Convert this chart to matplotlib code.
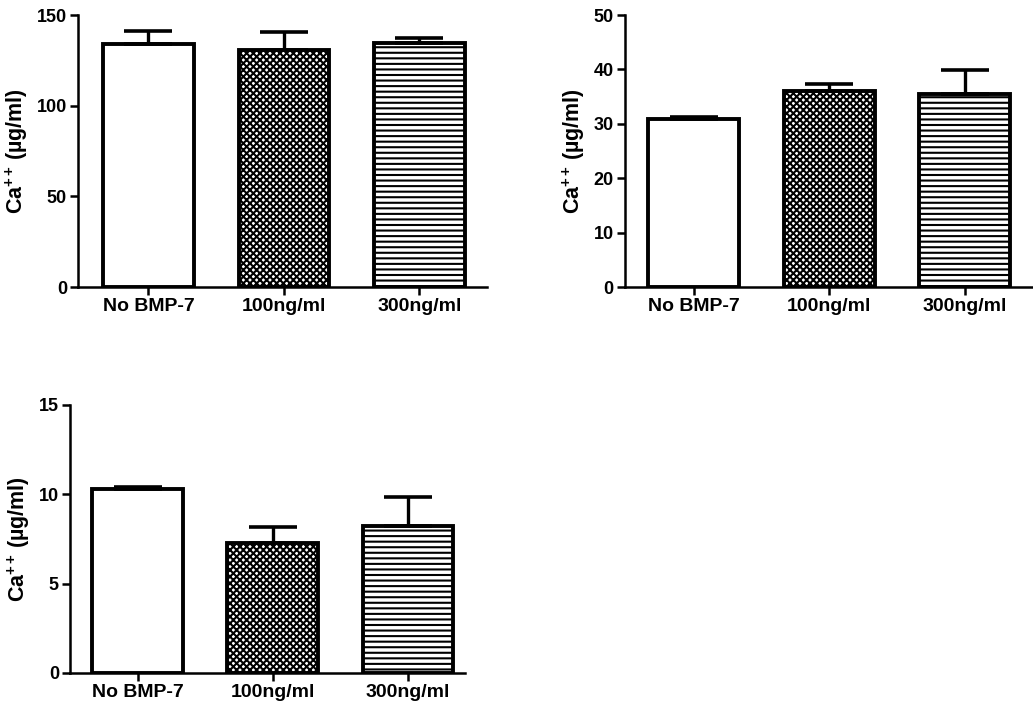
import matplotlib
matplotlib.use("Agg")
import matplotlib.pyplot as plt
import numpy as np

# ---- data ----
categories = ["No BMP-7", "100ng/ml", "300ng/ml"]

p1_means = [134.0, 130.7, 134.4]
p1_errs = [7.0, 10.0, 2.7]
p1_ticks = [0, 50, 100, 150]

p2_means = [30.9, 36.1, 35.4]
p2_errs = [0.4, 1.2, 4.5]
p2_ticks = [0, 10, 20, 30, 40, 50]

p3_means = [10.3, 7.26, 8.24]
p3_errs = [0.1, 0.9, 1.6]
p3_ticks = [0, 5, 10, 15]

ylabel = r"Ca$^{{+}\,{+}}$ (µg/ml)"

# ---- style ----
plt.rcParams["font.family"] = ["Liberation Sans", "DejaVu Sans"]
plt.rcParams["font.weight"] = "bold"
plt.rcParams["mathtext.fontset"] = "custom"
plt.rcParams["mathtext.rm"] = "Liberation Sans:bold"
plt.rcParams["mathtext.bf"] = "Liberation Sans:bold"
plt.rcParams["mathtext.it"] = "Liberation Sans:bold"
plt.rcParams["mathtext.default"] = "bf"
plt.rcParams["hatch.linewidth"] = 1.5
plt.rcParams["hatch.color"] = "black"

fig = plt.figure(figsize=(10.33, 7.09), dpi=100)

hatches = ["", "xxxxx", "---"]


def panel(rect, means, errs, ticks, xlim):
    ax = fig.add_axes(rect)
    x = np.arange(len(categories))
    ax.bar(x, means, width=0.67, color="white", edgecolor="black",
           linewidth=2.8, hatch=hatches, zorder=2)
    ax.errorbar(x, means, yerr=[np.zeros(len(errs)), errs], fmt="none",
                ecolor="black", elinewidth=2.4, capsize=17, capthick=2.6,
                zorder=3)
    ax.set_xlim(*xlim)
    ax.set_ylim(ticks[0], ticks[-1])
    ax.set_yticks(ticks)
    ax.set_yticklabels([str(t) for t in ticks], fontsize=13,
                       fontweight="bold")
    ax.set_xticks(x)
    ax.set_xticklabels(categories, fontsize=14, fontweight="bold")
    for s in ["top", "right"]:
        ax.spines[s].set_visible(False)
    for s in ["left", "bottom"]:
        ax.spines[s].set_linewidth(1.8)
    ax.tick_params(axis="both", direction="out", length=6, width=1.8,
                   pad=2)
    ax.set_ylabel(ylabel, fontsize=15.5, fontweight="bold", labelpad=5)
    return ax


panel([0.0755, 0.5952, 0.396, 0.3836], p1_means, p1_errs, p1_ticks,
      (-0.52, 2.50))
panel([0.605, 0.5952, 0.394, 0.3836], p2_means, p2_errs, p2_ticks,
      (-0.507, 2.495))
panel([0.0678, 0.0508, 0.382, 0.378], p3_means, p3_errs, p3_ticks,
      (-0.50, 2.42))

fig.savefig("out.png", dpi=100)
